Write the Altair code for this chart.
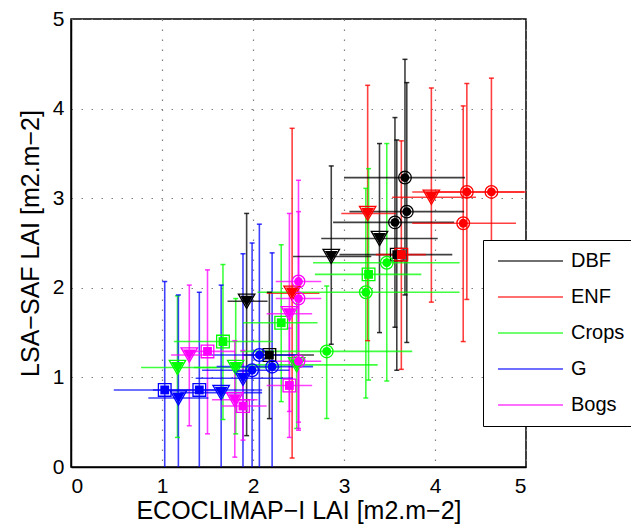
import altair as alt
import pandas as pd

CLASSES = ["DBF", "ENF", "Crops", "G", "Bogs"]
COLOURS = ["#000000", "#ff0000", "#00ff00", "#0000ff", "#ff00ff"]
MARKERS = ["o", "s", "v"]

# one entry per site/year: land cover class and marker used
cls = (["DBF"] * 8 + ["ENF"] * 7 + ["Crops"] * 9 + ["G"] * 8 + ["Bogs"] * 9)
marker = [
    "o", "o", "o", "v", "v", "s", "v", "s",
    "o", "o", "o", "v", "v", "s", "v",
    "o", "s", "o", "o", "s", "s", "v", "v", "v",
    "s", "s", "v", "v", "v", "o", "o", "o",
    "v", "s", "v", "s", "s", "v", "o", "o", "o",
]
# ECOCLIMAP-I LAI (x) and its spread
eco = [3.67, 3.69, 3.56, 3.39, 2.86, 3.58, 1.93, 2.18,
       4.35, 4.62, 4.31, 3.96, 3.26, 3.63, 2.43,
       3.47, 3.27, 3.24, 2.81, 2.31, 1.67, 1.17, 1.81, 2.48,
       1.03, 1.41, 1.18, 1.65, 1.89, 2.07, 2.21, 1.99,
       1.30, 1.50, 1.80, 1.89, 2.40, 2.40, 2.50, 2.50, 2.50]
eco_lo = [3.00, 3.06, 2.88, 2.75, 2.44, 2.95, 1.72, 1.90,
          3.75, 4.00, 3.75, 3.53, 2.97, 3.35, 2.15,
          2.66, 2.68, 2.05, 1.86, 1.89, 1.13, 0.77, 1.35, 1.95,
          0.47, 0.90, 0.85, 1.20, 1.37, 1.55, 1.60, 1.44,
          1.10, 1.25, 1.55, 1.65, 2.15, 2.15, 2.25, 2.25, 2.25]
eco_hi = [4.33, 4.32, 4.21, 4.03, 3.30, 4.19, 2.16, 2.67,
          4.98, 5.40, 4.89, 4.45, 3.57, 3.90, 2.73,
          4.27, 3.85, 4.27, 3.75, 2.71, 2.22, 1.60, 2.30, 3.37,
          1.60, 2.10, 1.51, 2.10, 2.44, 2.50, 2.66, 2.40,
          1.50, 1.80, 2.05, 2.15, 2.65, 2.65, 2.75, 2.75, 2.75]
# LSA-SAF LAI (y) and its spread
lsa = [3.23, 2.85, 2.73, 2.55, 2.35, 2.37, 1.85, 1.25,
       3.07, 3.07, 2.72, 3.01, 2.83, 2.37, 1.94,
       2.28, 2.15, 1.95, 1.29, 1.61, 1.40, 1.11, 1.11, 1.14,
       0.86, 0.86, 0.77, 0.83, 0.99, 1.25, 1.12, 1.08,
       1.25, 1.29, 0.75, 0.68, 0.91, 1.71, 2.07, 1.88, 1.18]
lsa_lo = [1.92, 1.39, 1.56, 1.50, 1.37, 1.08, 0.35, 0.54,
          1.87, 1.80, 1.40, 1.84, 1.41, 1.09, 0.10,
          0.96, 0.97, 0.77, 0.54, 0.73, 0.53, 0.33, 0.37, 0.43,
          -0.5, -0.5, -0.5, -0.5, -0.5, -0.5, -0.5, -0.5,
          0.46, 0.37, 0.11, 0.30, 0.33, 0.62, 0.41, 0.43, 0.50]
lsa_hi = [4.55, 4.29, 3.90, 3.61, 3.36, 3.65, 2.83, 1.95,
          4.28, 4.34, 4.03, 4.23, 4.26, 3.64, 3.78,
          3.61, 3.33, 3.11, 2.02, 2.48, 2.26, 1.91, 1.88, 1.90,
          2.07, 1.95, 1.92, 2.03, 2.38, 2.71, 2.39, 2.50,
          2.03, 2.20, 1.41, 1.30, 1.55, 2.83, 3.20, 2.85, 1.90]

df = pd.DataFrame({
    "cls": cls, "marker": marker,
    "eco": eco, "eco_lo": eco_lo, "eco_hi": eco_hi,
    "lsa": lsa, "lsa_lo": lsa_lo, "lsa_hi": lsa_hi,
})

FONT = "Liberation Sans"
cscale = alt.Scale(domain=CLASSES, range=COLOURS)
xscale = alt.Scale(domain=[0, 5], nice=False)
yscale = alt.Scale(domain=[0, 5], nice=False)

x_ax = alt.Axis(values=[0, 1, 2, 3, 4, 5], format="d", ticks=False,
                title="ECOCLIMAP−I LAI [m2.m−2]", labelPadding=8,
                titlePadding=2)
y_ax = alt.Axis(values=[0, 1, 2, 3, 4, 5], format="d", ticks=False,
                title="LSA−SAF LAI [m2.m−2]", labelPadding=7,
                titlePadding=9)

base = alt.Chart(df)

legend = alt.Legend(
    title=None, orient="none", legendX=412, legendY=221, zindex=1,
    symbolType="stroke", symbolSize=4225, symbolStrokeWidth=1.5,
    labelFont=FONT, labelFontSize=20, labelColor="black", labelOffset=7,
    padding=11, rowPadding=16, clipHeight=20, symbolOffset=3,
    strokeColor="black", fillColor="white",
)

vbars = base.mark_rule(strokeWidth=1.6, opacity=0.75, clip=True).encode(
    x=alt.X("eco:Q", scale=xscale, axis=x_ax),
    y=alt.Y("lsa_lo:Q", scale=yscale, axis=y_ax),
    y2="lsa_hi:Q",
    color=alt.Color("cls:N", scale=cscale, legend=legend, sort=CLASSES),
)

hbars = base.mark_rule(strokeWidth=1.6, opacity=0.75, clip=True).encode(
    x="eco_lo:Q", x2="eco_hi:Q", y="lsa:Q",
    stroke=alt.Stroke("cls:N", scale=cscale, legend=None),
)

cap_lo = base.mark_tick(orient="horizontal", size=5, thickness=1.5,
                        opacity=0.8, clip=True).encode(
    x="eco:Q", y="lsa_lo:Q",
    fill=alt.Fill("cls:N", scale=cscale, legend=None),
)
cap_hi = base.mark_tick(orient="horizontal", size=5, thickness=1.5,
                        opacity=0.8, clip=True).encode(
    x="eco:Q", y="lsa_hi:Q",
    fill=alt.Fill("cls:N", scale=cscale, legend=None),
)

shape_scale = alt.Scale(domain=MARKERS, range=["circle", "square", "triangle-down"])
is_tri = alt.datum.marker == "v"

outer = base.mark_point(filled=False, strokeWidth=1.3, opacity=1, clip=True).encode(
    x="eco:Q", y="lsa:Q",
    shape=alt.Shape("marker:N", scale=shape_scale, legend=None),
    size=alt.condition(is_tri, alt.value(270), alt.value(160)),
    stroke=alt.Stroke("cls:N", scale=cscale, legend=None),
)
inner = base.mark_point(filled=True, opacity=1, clip=True).encode(
    x="eco:Q", y="lsa:Q",
    shape=alt.Shape("marker:N", scale=shape_scale, legend=None),
    size=alt.condition(is_tri, alt.value(165), alt.value(78)),
    fill=alt.Fill("cls:N", scale=cscale, legend=None),
)

chart = alt.layer(vbars, hbars, cap_lo, cap_hi, outer, inner).properties(
    width=455, height=448,
    autosize=alt.AutoSizeParams(type="none"),
    padding={"left": 63, "top": 11, "right": 105, "bottom": 57},
    background="white",
).configure_axis(
    labelFont=FONT, labelFontSize=21, labelColor="black",
    titleFont=FONT, titleFontSize=25, titleFontWeight="normal", titleColor="black",
    domainColor="black", domainWidth=1.5,
    grid=True, gridColor="#808080", gridDash=[1.5, 8.5], gridWidth=1.2,
).configure_view(
    stroke="black", strokeWidth=1.5,
)

chart.save("out.html", embed_options={"renderer": "svg", "actions": False})
